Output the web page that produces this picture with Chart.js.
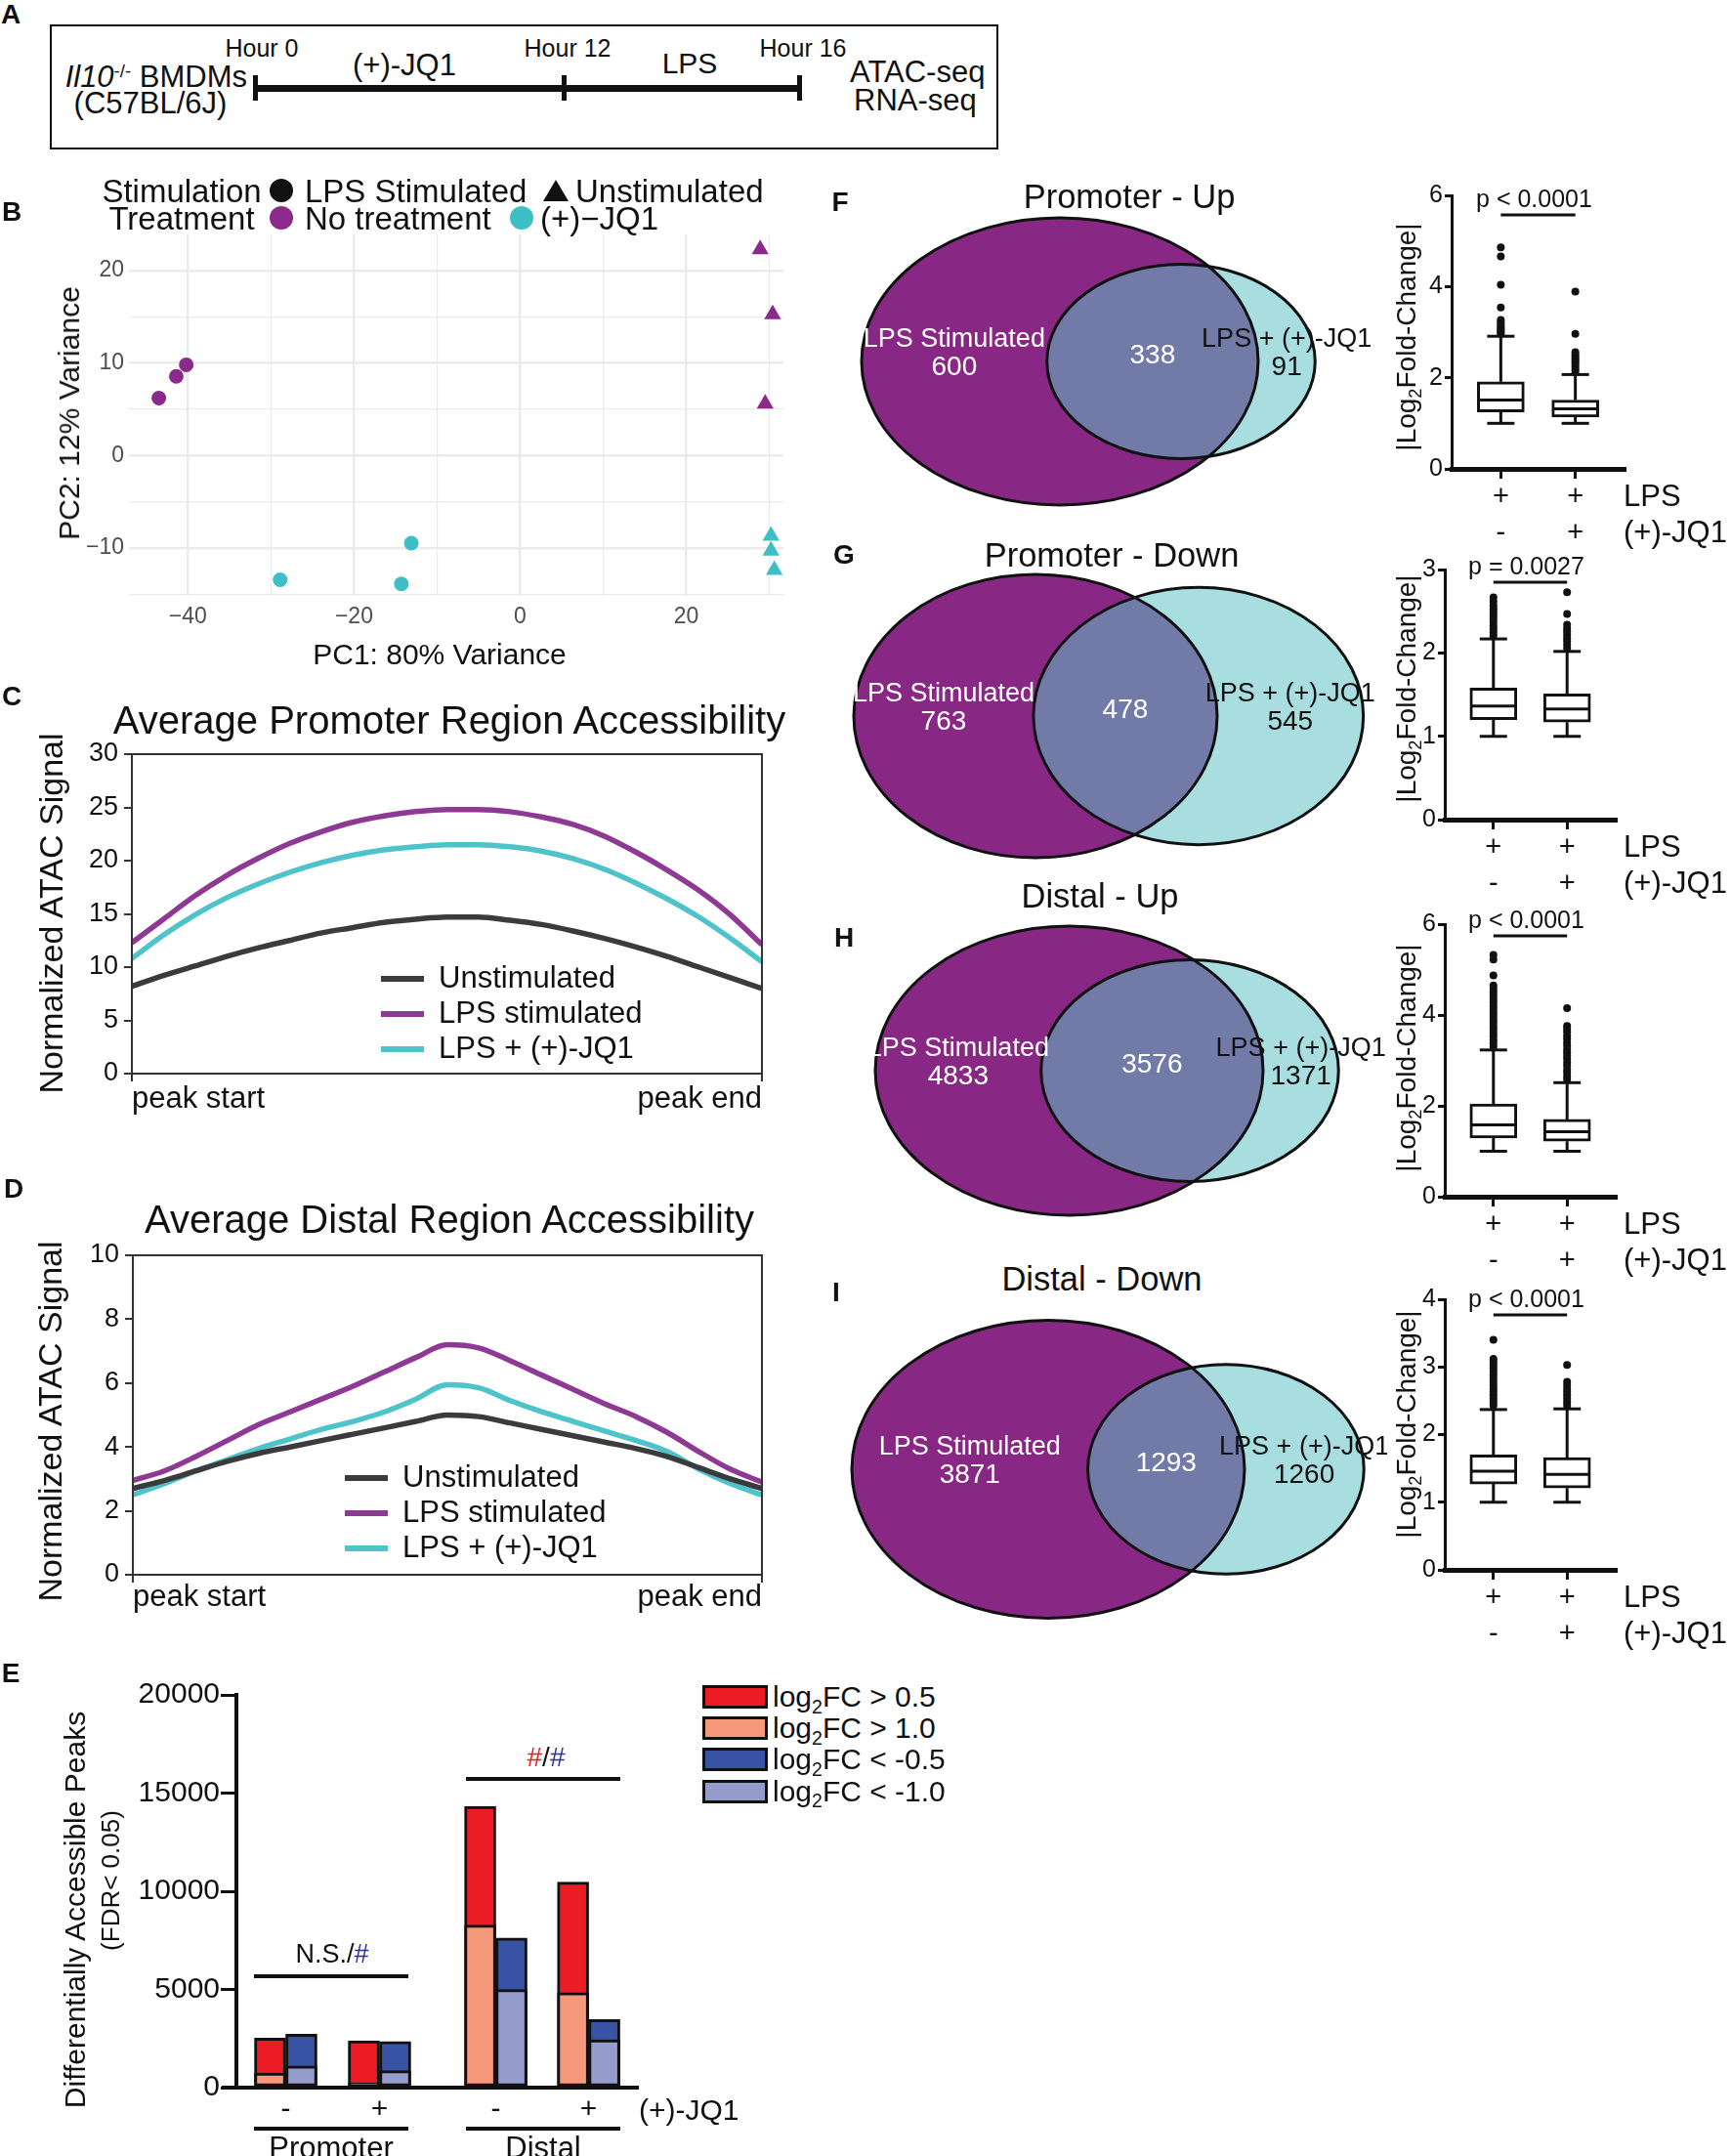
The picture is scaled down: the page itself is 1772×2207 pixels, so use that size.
<!DOCTYPE html>
<html>
<head>
<meta charset="utf-8">
<title>JQ1 ATAC-seq figure</title>
<script src="https://cdn.jsdelivr.net/npm/chart.js@4.4.1/dist/chart.umd.min.js"></script>
<style>
  html, body { margin: 0; padding: 0; background: #fff; }
  #fig { position: relative; width: 1772px; height: 2207px; overflow: hidden; background: #fff;
         font-family: 'Liberation Sans', Arial, Helvetica, sans-serif; }
  .t { position: absolute; white-space: nowrap; line-height: 1; color: #111; }
  .ln { position: absolute; background: #111; }
  .sub { font-size: 0.65em; position: relative; top: 0.35em; }
  .sup { font-size: 0.6em; position: relative; top: -0.55em; }
</style>
</head>
<body>
<div id="fig"></div>
<script>
// ---------- data ----------
// A: protocol
const timelineMarks = ['Hour 0', 'Hour 12', 'Hour 16'];
const timelineSteps = ['(+)-JQ1', 'LPS'];

// B: PCA scores (PC1, PC2)
const pc1LpsNone = [-43.5, -41.4, -40.2];
const pc2LpsNone = [6.2, 8.55, 9.8];
const pc1LpsJq1 = [-28.9, -14.3, -13.1];
const pc2LpsJq1 = [-13.45, -13.9, -9.5];
const pc1UnstNone = [28.9, 30.4, 29.5];
const pc2UnstNone = [22.3, 15.25, 5.6];
const pc1UnstJq1 = [30.2, 30.2, 30.6];
const pc2UnstJq1 = [-8.7, -10.3, -12.4];

// C/D: mean ATAC signal, 21 bins from peak start to peak end
const profileLabels = ['Unstimulated', 'LPS stimulated', 'LPS + (+)-JQ1'];
const profileEnds = ['peak start', 'peak end'];
const promUnstim = [8.2, 9.2, 10.1, 11.0, 11.8, 12.5, 13.2, 13.7, 14.2, 14.5, 14.7, 14.7, 14.4, 14.0, 13.4, 12.7, 11.9, 11.0, 10.0, 9.0, 8.0];
const promLps = [12.3, 14.5, 16.7, 18.6, 20.2, 21.6, 22.7, 23.6, 24.2, 24.6, 24.8, 24.8, 24.6, 24.1, 23.4, 22.3, 20.8, 19.1, 17.2, 14.9, 12.1];
const promLpsJq1 = [10.8, 13.0, 14.9, 16.5, 17.8, 18.9, 19.8, 20.5, 21.0, 21.3, 21.5, 21.5, 21.3, 20.9, 20.2, 19.2, 17.9, 16.4, 14.7, 12.7, 10.5];
const distUnstim = [2.7, 2.95, 3.25, 3.55, 3.8, 4.0, 4.2, 4.4, 4.6, 4.8, 5.0, 4.95, 4.75, 4.55, 4.35, 4.15, 3.95, 3.7, 3.35, 3.0, 2.7];
const distLps = [2.95, 3.25, 3.7, 4.2, 4.7, 5.1, 5.5, 5.9, 6.35, 6.8, 7.2, 7.1, 6.7, 6.25, 5.8, 5.35, 4.95, 4.45, 3.85, 3.3, 2.9];
const distLpsJq1 = [2.5, 2.85, 3.25, 3.6, 3.95, 4.25, 4.55, 4.8, 5.1, 5.5, 5.95, 5.85, 5.45, 5.1, 4.8, 4.5, 4.2, 3.85, 3.3, 2.85, 2.5];

// E: differentially accessible peaks (FDR < 0.05)
const jq1Signs = ['-', '+', '-', '+'];
const upHalf = [2517, 2384, 14321, 10464];   // log2FC > 0.5
const upOne = [745, 248, 8278, 4834];        // log2FC > 1.0
const downHalf = [2715, 2351, 7616, 3460];   // log2FC < -0.5
const downOne = [1109, 861, 5000, 2434];     // log2FC < -1.0
const daLegend = ['log<span class="sub">2</span>FC &gt; 0.5', 'log<span class="sub">2</span>FC &gt; 1.0',
                  'log<span class="sub">2</span>FC &lt; -0.5', 'log<span class="sub">2</span>FC &lt; -1.0'];

// F-I: Venn counts [LPS only, shared, LPS + JQ1 only]
const vennNames = ['LPS Stimulated', 'LPS + (+)-JQ1'];
const vennPromUp = [600, 338, 91];
const vennPromDown = [763, 478, 545];
const vennDistUp = [4833, 3576, 1371];
const vennDistDown = [3871, 1293, 1260];

// F-I: |log2 fold change| box plots, [LPS, LPS + JQ1]
const lpsRow = ['+', '+'];
const jq1Row = ['-', '+'];
const fLow = [1.0, 1.0], fQ1 = [1.25, 1.14], fMed = [1.51, 1.32], fQ3 = [1.91, 1.51], fHigh = [2.91, 2.07];
const fOutLps = [2.96, 3.0, 3.04, 3.08, 3.12, 3.17, 3.22, 3.27, 3.54, 4.04, 4.66, 4.86];
const fOutJq1 = [2.12, 2.18, 2.24, 2.3, 2.35, 2.4, 2.45, 2.5, 2.56, 2.96, 3.89];
const gLow = [1.0, 1.0], gQ1 = [1.2, 1.17], gMed = [1.365, 1.33], gQ3 = [1.58, 1.51], gHigh = [2.17, 2.02];
const gOutLps = [2.21, 2.25, 2.29, 2.33, 2.37, 2.41, 2.45, 2.49, 2.53, 2.57, 2.62, 2.67];
const gOutJq1 = [2.06, 2.1, 2.14, 2.18, 2.22, 2.26, 2.3, 2.34, 2.47, 2.73];
const hLow = [1.0, 1.0], hQ1 = [1.29, 1.22], hMed = [1.58, 1.43], hQ3 = [2.04, 1.70], hHigh = [3.23, 2.51];
const hOutLps = [3.3, 3.38, 3.45, 3.53, 3.6, 3.68, 3.75, 3.83, 3.9, 3.98, 4.05, 4.13, 4.2, 4.28, 4.35, 4.43, 4.5, 4.58, 4.65, 4.87, 5.22, 5.32];
const hOutJq1 = [2.58, 2.65, 2.73, 2.8, 2.88, 2.95, 3.03, 3.1, 3.18, 3.25, 3.33, 3.4, 3.48, 3.55, 3.63, 3.7, 3.76, 4.15];
const iLow = [1.0, 1.0], iQ1 = [1.27, 1.21], iMed = [1.46, 1.41], iQ3 = [1.70, 1.66], iHigh = [2.37, 2.38];
const iOutLps = [2.43, 2.48, 2.53, 2.58, 2.63, 2.68, 2.73, 2.78, 2.83, 2.88, 2.93, 2.98, 3.03, 3.08, 3.12, 3.4];
const iOutJq1 = [2.43, 2.48, 2.53, 2.58, 2.63, 2.68, 2.73, 2.78, 3.03];

// ---------- styles ----------
const FONT = "'Liberation Sans', Arial, Helvetica, sans-serif";
const PURPLE_B = '#8A2B8C', CYAN_B = '#3DBFC5';
const lineColors = ['#3B3B3D', '#8E3A95', '#4EC4CA'];
const RED = '#EC1C24', SALMON = '#F6997A', BLUE = '#3953A4', LBLUE = '#959BCB';
const PURPLE_V = '#892884', CYAN_V = '#A9DEE0', OVER_V = '#727BA8';

Chart.defaults.font.family = FONT;
Chart.defaults.color = '#111';
Chart.defaults.plugins.legend.display = false;
Chart.defaults.plugins.tooltip.enabled = false;

const fig = document.getElementById('fig');
const base = extra => Object.assign({responsive: false, animation: false, devicePixelRatio: 1, events: []}, extra);

function place(box) {
  const c = document.createElement('canvas');
  c.width = box.w; c.height = box.h;
  Object.assign(c.style, {position: 'absolute', left: box.l + 'px', top: box.t + 'px', width: box.w + 'px', height: box.h + 'px'});
  fig.appendChild(c);
  return c;
}
// pin the chart area to page pixels
function fitTo(box, area) {
  return {
    padding: {left: 0, top: area.t - box.t, right: box.l + box.w - area.r, bottom: 0},
    yFit: s => { s.width = area.l - box.l; },
    xFit: s => { s.height = box.t + box.h - area.b; }
  };
}
function txt(html, x, y, size, o = {}) {
  const d = document.createElement('div');
  d.className = 't';
  d.innerHTML = html;
  d.style.left = x + 'px';
  d.style.top = y + 'px';
  d.style.fontSize = size + 'px';
  if (o.color) d.style.color = o.color;
  if (o.bold) d.style.fontWeight = 'bold';
  const ax = o.anchor === 'l' ? '0' : o.anchor === 'r' ? '-100%' : '-50%';
  d.style.transform = `translate(${ax},-50%)` + (o.rot ? ` rotate(${o.rot}deg)` : '');
  fig.appendChild(d);
  return d;
}
function rule(l, t, w, h) {
  const d = document.createElement('div');
  d.className = 'ln';
  Object.assign(d.style, {left: l + 'px', top: t + 'px', width: w + 'px', height: h + 'px'});
  fig.appendChild(d);
  return d;
}

// ---------- plugins ----------
const frame = {
  id: 'frame',
  afterDatasetsDraw(chart) {
    const {ctx, chartArea: a} = chart;
    ctx.save();
    ctx.strokeStyle = '#333'; ctx.lineWidth = 2;
    ctx.strokeRect(a.left, a.top, a.right - a.left, a.bottom - a.top);
    ctx.restore();
  }
};
const lineKey = {
  id: 'lineKey',
  afterDraw(chart, args, o) {
    const ctx = chart.ctx;
    ctx.save();
    ctx.font = `31px ${FONT}`; ctx.textBaseline = 'middle';
    chart.data.datasets.forEach((ds, i) => {
      const y = o.y + i * o.dy;
      ctx.strokeStyle = ds.borderColor; ctx.lineWidth = 6;
      ctx.beginPath(); ctx.moveTo(o.x, y); ctx.lineTo(o.x + 44, y); ctx.stroke();
      ctx.fillStyle = '#111';
      ctx.fillText(ds.label, o.x + 59, y);
    });
    ctx.restore();
  }
};
const stub = {
  id: 'stub',
  afterDraw(chart) {
    const {ctx, chartArea: a} = chart;
    ctx.fillStyle = '#111';
    ctx.fillRect(a.left - 15, a.bottom - 2, 15, 4);
  }
};
const boxParts = {
  id: 'boxParts',
  afterDatasetsDraw(chart, args, o) {
    const {ctx, scales: {x, y}} = chart;
    const seg = (x1, y1, x2, y2) => { ctx.beginPath(); ctx.moveTo(x1, y1); ctx.lineTo(x2, y2); ctx.stroke(); };
    ctx.save();
    ctx.strokeStyle = '#111'; ctx.lineWidth = 3;
    o.med.forEach((m, i) => {
      const cx = x.getPixelForValue(i + 1);
      const lo = y.getPixelForValue(o.low[i]), hi = y.getPixelForValue(o.high[i]);
      seg(cx, y.getPixelForValue(o.q1[i]), cx, lo);
      seg(cx, y.getPixelForValue(o.q3[i]), cx, hi);
      seg(cx - 14, lo, cx + 14, lo);
      seg(cx - 14, hi, cx + 14, hi);
      const ym = y.getPixelForValue(m);
      seg(cx - 23, ym, cx + 23, ym);
    });
    const py = y.getPixelForValue(o.pAt), x1 = x.getPixelForValue(1), x2 = x.getPixelForValue(2);
    seg(x1, py, x2, py);
    ctx.fillStyle = '#111'; ctx.font = `25px ${FONT}`;
    ctx.textAlign = 'center'; ctx.textBaseline = 'middle';
    ctx.fillText(o.pText, (x1 + x2) / 2 - 4, py - 15);
    ctx.restore();
  }
};

// area-proportional two-set Venn: big set radius 1, small radius and distance from counts
function lensArea(r1, r2, d) {
  const c = v => Math.min(1, Math.max(-1, v));
  const a1 = r1 * r1 * Math.acos(c((d * d + r1 * r1 - r2 * r2) / (2 * d * r1)));
  const a2 = r2 * r2 * Math.acos(c((d * d + r2 * r2 - r1 * r1) / (2 * d * r2)));
  const k = 0.5 * Math.sqrt(Math.max(0, (-d + r1 + r2) * (d + r1 - r2) * (d - r1 + r2) * (d + r1 + r2)));
  return a1 + a2 - k;
}
function vennGeom(counts) {
  const a = counts[0] + counts[1], b = counts[1] + counts[2];
  const r2 = Math.sqrt(b / a);
  const target = Math.PI * counts[1] / a;
  let lo = 1 - r2 + 1e-6, hi = 1 + r2;
  for (let k = 0; k < 60; k++) {
    const mid = (lo + hi) / 2;
    if (lensArea(1, r2, mid) > target) lo = mid; else hi = mid;
  }
  return {r2, d: (lo + hi) / 2};
}
const venn = {
  id: 'venn',
  afterDraw(chart, args, o) {
    const {ctx, scales: {x, y}} = chart;
    const g = vennGeom(o.counts);
    const px = v => x.getPixelForValue(v);
    const sx = px(1) - px(0), sy = y.getPixelForValue(0) - y.getPixelForValue(1), cy = y.getPixelForValue(0);
    const ell = (c, r) => { ctx.beginPath(); ctx.ellipse(px(c), cy, r * sx, r * sy, 0, 0, 2 * Math.PI); };
    ctx.save();
    ell(0, 1); ctx.fillStyle = PURPLE_V; ctx.fill();
    ell(g.d, g.r2); ctx.fillStyle = CYAN_V; ctx.fill();
    ctx.save(); ell(0, 1); ctx.clip(); ell(g.d, g.r2); ctx.fillStyle = OVER_V; ctx.fill(); ctx.restore();
    ctx.strokeStyle = '#111'; ctx.lineWidth = 3;
    ell(0, 1); ctx.stroke();
    ell(g.d, g.r2); ctx.stroke();
    const xl = (-1 + g.d - g.r2) / 2, xm = (g.d - g.r2 + 1) / 2, xr = (1 + g.d + g.r2) / 2;
    ctx.textAlign = 'center'; ctx.textBaseline = 'middle';
    ctx.fillStyle = '#fff';
    ctx.font = `27px ${FONT}`; ctx.fillText(vennNames[0], px(xl), cy - 22);
    ctx.font = `28px ${FONT}`; ctx.fillText(String(o.counts[0]), px(xl), cy + 6);
    ctx.fillText(String(o.counts[1]), px(xm), cy - 6);
    ctx.fillStyle = '#111';
    ctx.font = `27px ${FONT}`; ctx.fillText(vennNames[1], px(xr), cy - 22);
    ctx.font = `28px ${FONT}`; ctx.fillText(String(o.counts[2]), px(xr), cy + 6);
    ctx.restore();
  }
};

// ---------- B: PCA ----------
const minusFmt = v => (v < 0 ? '\u2212' + Math.abs(v) : String(v));
const dots = (xs, ys, style, r, color) => ({
  data: xs.map((x, i) => ({x, y: ys[i]})), pointStyle: style, pointRadius: r,
  pointBackgroundColor: color, pointBorderWidth: 0
});
const bBox = {l: 0, t: 200, w: 830, h: 480};
const bFit = fitTo(bBox, {l: 132, t: 240, r: 802, b: 610});
new Chart(place(bBox), {
  type: 'scatter',
  data: {datasets: [
    dots(pc1LpsNone, pc2LpsNone, 'circle', 7.5, PURPLE_B),
    dots(pc1LpsJq1, pc2LpsJq1, 'circle', 7.5, CYAN_B),
    dots(pc1UnstNone, pc2UnstNone, 'triangle', 10, PURPLE_B),
    dots(pc1UnstJq1, pc2UnstJq1, 'triangle', 10, CYAN_B)
  ]},
  options: base({
    layout: {padding: bFit.padding},
    scales: {
      x: {min: -47.1, max: 31.7, afterFit: bFit.xFit, border: {display: false},
          grid: {color: '#EBEBEB', drawTicks: false, lineWidth: c => (c.tick && c.tick.value % 20 === 0 ? 2.4 : 1.2)},
          ticks: {stepSize: 10, includeBounds: false, autoSkip: false, maxRotation: 0, padding: 10, color: '#4D4D4D',
                  font: {size: 23, lineHeight: 1}, callback: v => (v % 20 === 0 ? minusFmt(v) : '')}},
      y: {min: -15.2, max: 23.9, afterFit: bFit.yFit, border: {display: false},
          grid: {color: '#EBEBEB', drawTicks: false, lineWidth: c => (c.tick && c.tick.value % 10 === 0 ? 2.4 : 1.2)},
          ticks: {stepSize: 5, includeBounds: false, autoSkip: false, padding: 5, color: '#4D4D4D',
                  font: {size: 23}, callback: v => (v % 10 === 0 ? minusFmt(v) : '')}}
    }
  })
});

// ---------- C / D: accessibility profiles ----------
function profileChart(box, area, series, yMax, yStep, keyY, xPad) {
  const fit = fitTo(box, area);
  new Chart(place(box), {
    type: 'line',
    data: {datasets: series.map((s, i) => ({
      label: profileLabels[i], data: s.map((y, x) => ({x, y})),
      borderColor: lineColors[i], borderWidth: 5.5, pointRadius: 0, cubicInterpolationMode: 'monotone'
    }))},
    options: base({
      layout: {padding: fit.padding},
      scales: {
        x: {type: 'linear', min: 0, max: 20, afterFit: fit.xFit,
            afterBuildTicks: s => { s.ticks = [{value: 0}, {value: 20}]; },
            border: {color: '#333', width: 2},
            grid: {drawOnChartArea: false, color: '#333', lineWidth: 2, tickLength: 8},
            ticks: {align: 'inner', autoSkip: false, maxRotation: 0, padding: xPad, color: '#111',
                    font: {size: 31, lineHeight: 1}, callback: (v, i) => profileEnds[i]}},
        y: {min: 0, max: yMax, afterFit: fit.yFit, border: {color: '#333', width: 2},
            grid: {drawOnChartArea: false, color: '#333', lineWidth: 2, tickLength: 8},
            ticks: {stepSize: yStep, padding: 6, color: '#111', font: {size: 27}}}
      },
      plugins: {lineKey: {x: area.key - box.l, y: keyY - box.t, dy: 36}}
    }),
    plugins: [frame, lineKey]
  });
}
profileChart({l: 0, t: 690, w: 820, h: 480}, {l: 135, t: 772, r: 780, b: 1099, key: 390},
             [promUnstim, promLps, promLpsJq1], 30, 5, 1002, 3);
profileChart({l: 0, t: 1190, w: 820, h: 480}, {l: 136, t: 1285, r: 780, b: 1612, key: 353},
             [distUnstim, distLps, distLpsJq1], 10, 2, 1513, 0);

// ---------- E: stacked peak counts ----------
const groupPos = [1, 2, 3.24, 4.23]; // slot centres; wider gap between Promoter and Distal
const eBox = {l: 0, t: 1690, w: 700, h: 517};
const eFit = fitTo(eBox, {l: 242, t: 1735, r: 653, b: 2137});
const barSet = (vals, stack, color) => ({
  data: vals.map((y, i) => ({x: groupPos[i], y})), stack, backgroundColor: color,
  borderColor: '#111', borderWidth: 3, borderSkipped: false, barThickness: 32
});
new Chart(place(eBox), {
  type: 'bar',
  data: {datasets: [
    barSet(upOne, 'up', SALMON), barSet(upHalf, 'up', RED),
    barSet(downOne, 'down', LBLUE), barSet(downHalf, 'down', BLUE)
  ]},
  options: base({
    layout: {padding: eFit.padding},
    scales: {
      x: {type: 'linear', min: 0.474, max: 4.755, stacked: true, offset: false, afterFit: eFit.xFit,
          afterBuildTicks: s => { s.ticks = groupPos.map(value => ({value})); },
          border: {color: '#111', width: 4}, grid: {display: false, drawTicks: false, offset: false},
          ticks: {autoSkip: false, maxRotation: 0, padding: 8, color: '#111', font: {size: 30, lineHeight: 1},
                  callback: (v, i) => jq1Signs[i]}},
      y: {min: 0, max: 20000, stacked: false, afterFit: eFit.yFit, border: {color: '#111', width: 4},
          grid: {drawOnChartArea: false, color: '#111', lineWidth: 3, tickLength: 16},
          ticks: {stepSize: 5000, padding: 1, color: '#111', font: {size: 30}, callback: v => String(v)}}
    }
  }),
  plugins: [stub]
});

// ---------- F-I: Venn diagrams ----------
function vennChart(counts, cx, cy, sx, sy) {
  const box = {l: 850, t: cy - 165, w: 570, h: 330};
  new Chart(place(box), {
    type: 'scatter',
    data: {datasets: []},
    options: base({
      layout: {padding: 0},
      scales: {
        x: {display: false, min: (box.l - cx) / sx, max: (box.l + box.w - cx) / sx},
        y: {display: false, min: -165 / sy, max: 165 / sy}
      },
      plugins: {venn: {counts}}
    }),
    plugins: [venn]
  });
}
vennChart(vennPromUp, 1085, 369.5, 203, 147);
vennChart(vennPromDown, 1060, 733, 186, 145);
vennChart(vennDistUp, 1094.5, 1096, 198.5, 148);
vennChart(vennDistDown, 1073, 1504, 201, 152.5);

// ---------- F-I: box plots ----------
function boxPlot(box, area, s) {
  const fit = fitTo(box, area);
  new Chart(place(box), {
    type: 'bar',
    data: {datasets: [
      {type: 'scatter', data: [...s.out1.map(y => ({x: 1, y})), ...s.out2.map(y => ({x: 2, y}))],
       pointRadius: 4, pointBackgroundColor: '#111', pointBorderWidth: 0},
      {type: 'bar', data: s.q1.map((q, i) => ({x: i + 1, y: [q, s.q3[i]]})), backgroundColor: '#fff',
       borderColor: '#111', borderWidth: 3, borderSkipped: false, barThickness: 48}
    ]},
    options: base({
      layout: {padding: fit.padding},
      scales: {
        x: {type: 'linear', min: 0.34, max: 2.66, offset: false, afterFit: fit.xFit,
            afterBuildTicks: sc => { sc.ticks = [{value: 1}, {value: 2}]; },
            border: {color: '#111', width: 5},
            grid: {drawOnChartArea: false, offset: false, color: '#111', lineWidth: 3, tickLength: 10},
            ticks: {autoSkip: false, maxRotation: 0, padding: 0, color: '#111', font: {size: 29, lineHeight: '37px'},
                    callback: (v, i) => [lpsRow[i], jq1Row[i]]}},
        y: {min: 0, max: s.max, afterFit: fit.yFit, border: {color: '#111', width: 3},
            grid: {drawOnChartArea: false, color: '#111', lineWidth: 3, tickLength: 7},
            ticks: {stepSize: s.step, padding: 2, color: '#111', font: {size: 25}}}
      },
      plugins: {boxParts: {q1: s.q1, q3: s.q3, low: s.low, med: s.med, high: s.high, pAt: s.pAt, pText: s.pText}}
    }),
    plugins: [boxParts]
  });
}
boxPlot({l: 1420, t: 170, w: 340, h: 420}, {l: 1486, t: 200, r: 1663, b: 480},
        {q1: fQ1, q3: fQ3, low: fLow, med: fMed, high: fHigh, out1: fOutLps, out2: fOutJq1, max: 6, step: 2, pAt: 5.57, pText: 'p < 0.0001'});
boxPlot({l: 1420, t: 540, w: 340, h: 400}, {l: 1479, t: 583.3, r: 1654, b: 839},
        {q1: gQ1, q3: gQ3, low: gLow, med: gMed, high: gHigh, out1: gOutLps, out2: gOutJq1, max: 3, step: 1, pAt: 2.85, pText: 'p = 0.0027'});
boxPlot({l: 1420, t: 910, w: 340, h: 400}, {l: 1479, t: 946, r: 1654, b: 1225},
        {q1: hQ1, q3: hQ3, low: hLow, med: hMed, high: hHigh, out1: hOutLps, out2: hOutJq1, max: 6, step: 2, pAt: 5.74, pText: 'p < 0.0001'});
boxPlot({l: 1420, t: 1290, w: 340, h: 400}, {l: 1479, t: 1330, r: 1654, b: 1607},
        {q1: iQ1, q3: iQ3, low: iLow, med: iMed, high: iHigh, out1: iOutLps, out2: iOutJq1, max: 4, step: 1, pAt: 3.77, pText: 'p < 0.0001'});

// ---------- text and schematic ----------
// panel letters
[['A', 11, 15], ['B', 12, 217], ['C', 12, 713], ['D', 14, 1217], ['E', 11, 1713],
 ['F', 860, 207], ['G', 864, 568], ['H', 864, 960], ['I', 856, 1323]]
  .forEach(([l, x, y]) => txt(l, x, y, 28, {bold: true}));

// A
const aBox = rule(51, 25, 971, 128);
Object.assign(aBox.style, {background: 'none', border: '2px solid #111', boxSizing: 'border-box'});
rule(261, 86.5, 557, 7);
[261, 577, 818].forEach((x, i) => {
  rule(x - 2.5, 77, 5, 26);
  txt(timelineMarks[i], x + (i ? 4 : 7), 49, 25);
});
txt(timelineSteps[0], 414, 66, 31);
txt(timelineSteps[1], 706, 65, 30);
txt('<i>Il10</i><span class="sup">-/-</span> BMDMs', 253, 78, 31, {anchor: 'r'});
txt('(C57BL/6J)', 154, 105, 31);
txt('ATAC-seq', 870, 73, 31, {anchor: 'l'});
txt('RNA-seq', 874, 102, 31, {anchor: 'l'});

// B legend and axis titles
const sym = (shape, x, y, color) => {
  const d = rule(x - 12, y - 11, 24, 22);
  if (shape === 'circle') Object.assign(d.style, {background: color, borderRadius: '50%', top: (y - 12) + 'px', height: '24px'});
  else Object.assign(d.style, {background: 'none', width: 0, height: 0, left: (x - 13) + 'px',
                               borderLeft: '13px solid transparent', borderRight: '13px solid transparent', borderBottom: `22px solid ${color}`});
};
txt('Stimulation', 186, 195, 33);
sym('circle', 288, 195, '#111'); txt('LPS Stimulated', 312, 195, 33, {anchor: 'l'});
sym('tri', 569, 195, '#111'); txt('Unstimulated', 589, 195, 33, {anchor: 'l'});
txt('Treatment', 186, 223, 33);
sym('circle', 288, 223, PURPLE_B); txt('No treatment', 312, 223, 33, {anchor: 'l'});
sym('circle', 534, 223, CYAN_B); txt('(+)\u2212JQ1', 553, 223, 33, {anchor: 'l'});
txt('PC1: 80% Variance', 450, 670, 30);
txt('PC2: 12% Variance', 71, 423, 30, {rot: -90});

// C, D titles
txt('Average Promoter Region Accessibility', 460, 737, 40);
txt('Normalized ATAC Signal', 52, 935, 34, {rot: -90});
txt('Average Distal Region Accessibility', 460, 1248, 40);
txt('Normalized ATAC Signal', 51, 1455, 34, {rot: -90});

// E annotations
txt('Differentially Accessible Peaks', 77, 1955, 30, {rot: -90});
txt('(FDR&lt; 0.05)', 113, 1925, 26, {rot: -90});
rule(260, 2021, 158, 4);
rule(477, 1819, 158, 4);
txt('N.S./<span style="color:#2E3192">#</span>', 340, 2000, 27);
txt('<span style="color:#ED1C24">#</span>/<span style="color:#2E3192">#</span>', 559, 1799, 28);
txt('(+)-JQ1', 654, 2160, 30, {anchor: 'l'});
rule(260, 2177, 158, 4);
rule(477, 2177, 158, 4);
txt('Promoter', 339, 2198, 31);
txt('Distal', 556, 2198, 31);
[RED, SALMON, BLUE, LBLUE].forEach((c, i) => {
  const y = 1737 + i * 32.2;
  const b = rule(719, y - 12, 67, 24);
  Object.assign(b.style, {background: c, border: '3px solid #111', boxSizing: 'border-box'});
  txt(daLegend[i], 791, y, 30, {anchor: 'l'});
});

// F-I titles and axis labels
[['Promoter - Up', 1156, 201], ['Promoter - Down', 1138, 568], ['Distal - Up', 1126, 917], ['Distal - Down', 1128, 1309]]
  .forEach(([s, x, y]) => txt(s, x, y, 34.5));
[345, 705, 1083, 1458].forEach(y =>
  txt('|Log<span class="sub">2</span>Fold-Change|', 1440, y, 28, {rot: -90}));
[507, 866, 1252, 1634].forEach(y => {
  txt('LPS', 1662, y, 31, {anchor: 'l'});
  txt('(+)-JQ1', 1662, y + 37, 31, {anchor: 'l'});
});
</script>
</body>
</html>
